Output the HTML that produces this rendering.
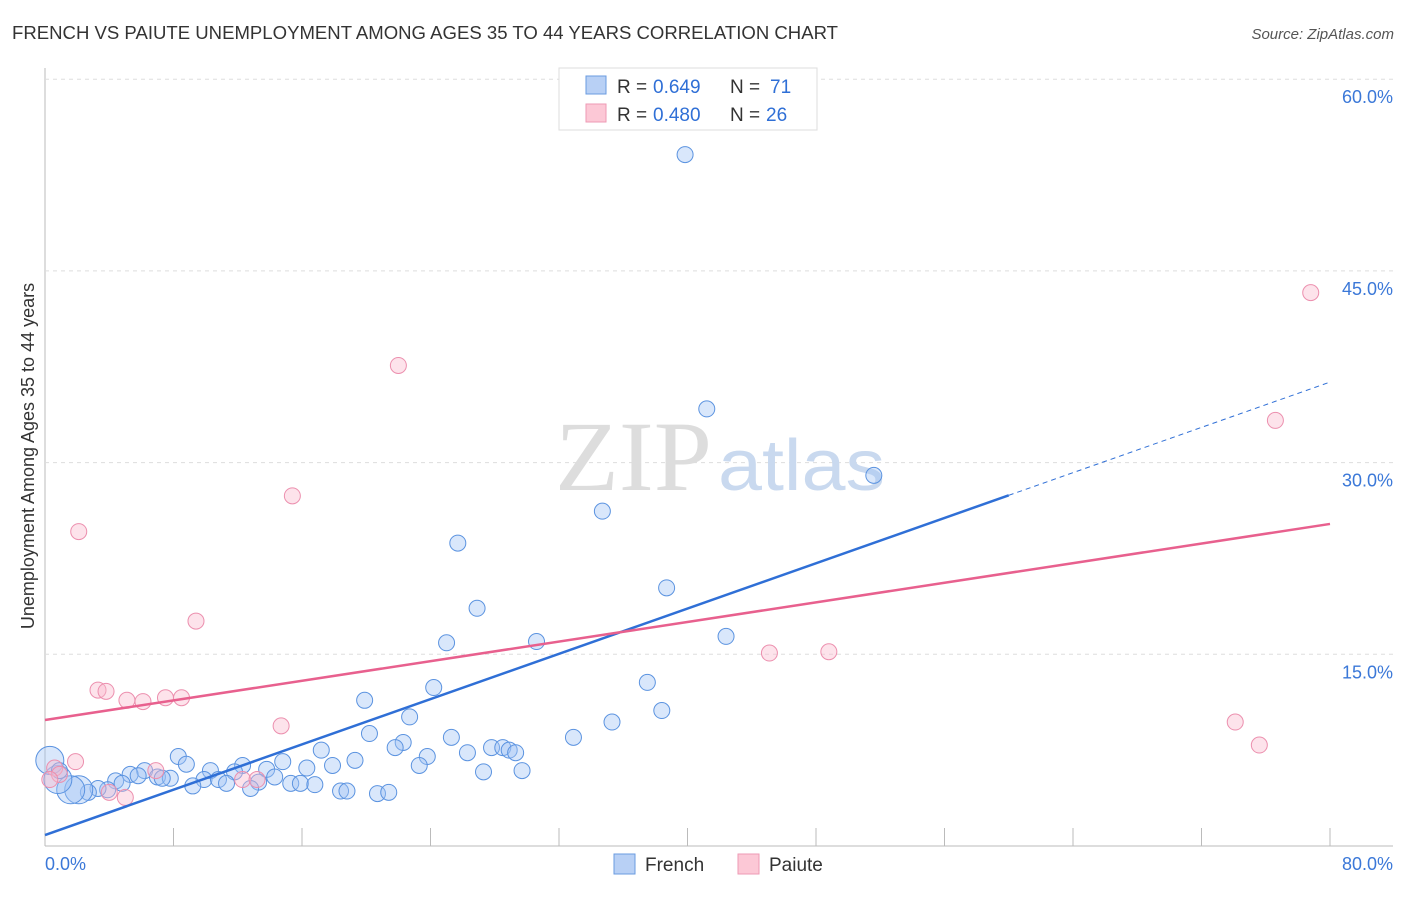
<!DOCTYPE html>
<html><head><meta charset="utf-8"><style>
body{margin:0;background:#fff;font-family:"Liberation Sans",sans-serif}
</style></head><body>
<svg width="1406" height="892" xmlns="http://www.w3.org/2000/svg" style="font-family:'Liberation Sans',sans-serif">
<text x="12" y="39" font-size="18" fill="#333" textLength="826" lengthAdjust="spacingAndGlyphs">FRENCH VS PAIUTE UNEMPLOYMENT AMONG AGES 35 TO 44 YEARS CORRELATION CHART</text>
<text x="1394" y="39" font-size="15" fill="#555" font-style="italic" text-anchor="end">Source: ZipAtlas.com</text>
<g id="grid"></g>
<text x="712" y="490" font-size="100" fill="#ddd" font-family="Liberation Serif,serif" text-anchor="end" textLength="157" lengthAdjust="spacingAndGlyphs">ZIP</text>
<text x="718" y="490" font-size="72" fill="#c9d9ef" textLength="167" lengthAdjust="spacingAndGlyphs">atlas</text>
<text transform="translate(34,456) rotate(-90)" font-size="18" fill="#333" text-anchor="middle">Unemployment Among Ages 35 to 44 years</text>
<g id="pts"></g>
<g id="lines"></g>
<g>
<rect x="559" y="68" width="258" height="62" fill="#fff" stroke="#ddd"/>
<rect x="586" y="76" width="20" height="18" fill="#b8d0f5" stroke="#6a9be0"/>
<rect x="586" y="104" width="20" height="18" fill="#fcc8d6" stroke="#ee9ab4"/>
<text x="617" y="93" font-size="19" fill="#333">R =</text><text x="653" y="93" font-size="19" fill="#2f6fd6">0.649</text>
<text x="730" y="93" font-size="19" fill="#333">N =</text><text x="770" y="93" font-size="19" fill="#2f6fd6">71</text>
<text x="617" y="121" font-size="19" fill="#333">R =</text><text x="653" y="121" font-size="19" fill="#2f6fd6">0.480</text>
<text x="730" y="121" font-size="19" fill="#333">N =</text><text x="766" y="121" font-size="19" fill="#2f6fd6">26</text>
</g>
<g>
<rect x="614" y="854" width="21" height="20" fill="#b8d0f5" stroke="#6a9be0"/>
<text x="645" y="871" font-size="19" fill="#333">French</text>
<rect x="738" y="854" width="21" height="20" fill="#fcc8d6" stroke="#ee9ab4"/>
<text x="769" y="871" font-size="19" fill="#333">Paiute</text>
</g>
</svg>
<script>
const yTicks=[15,30,45,60];
const xTickLabels=["0.0%","80.0%"];
const frenchX=[39.85,41.2,51.6,34.7,25.7,38.7,26.9,25.0,30.6,42.4,37.5,24.2,19.9,38.4,35.3,22.7,20.2,25.3,32.9,22.3,21.8,27.8,28.5,28.9,29.3,17.2,23.8,26.3,19.3,23.3,27.3,29.7,17.9,16.3,14.8,13.8,12.3,11.8,8.3,8.8,10.3,9.9,10.8,11.3,9.2,14.3,15.3,15.9,16.8,13.3,12.8,18.4,18.8,20.7,21.4,6.2,7.0,7.8,7.3,5.3,5.8,4.4,4.8,3.9,3.3,2.7,2.1,1.6,0.8,0.3,0.9];
const frenchY=[54.1,34.2,29.0,26.2,23.7,20.2,18.6,15.9,16.0,16.4,12.8,12.4,11.4,10.6,9.7,10.1,8.8,8.5,8.5,8.1,7.7,7.7,7.7,7.5,7.3,7.5,7.0,7.3,6.7,6.3,5.8,5.9,6.3,6.1,6.6,6.0,6.3,5.8,7.0,6.4,5.9,5.2,5.2,4.9,4.7,5.4,4.9,4.9,4.8,5.0,4.5,4.3,4.3,4.1,4.2,5.9,5.4,5.3,5.3,5.6,5.5,5.1,4.9,4.4,4.5,4.2,4.4,4.4,5.2,6.7,5.9];
const paiuteX=[78.8,76.6,22.0,15.4,2.1,9.4,45.1,48.8,74.1,75.6,14.7,3.3,3.8,5.1,6.1,7.5,8.5,1.9,6.9,12.3,13.2,4.0,5.0,0.6,0.9,0.3];
const paiuteY=[43.3,33.3,37.6,27.4,24.6,17.6,15.1,15.2,9.7,7.9,9.4,12.2,12.1,11.4,11.3,11.6,11.6,6.6,5.9,5.2,5.2,4.2,3.8,6.1,5.6,5.2];
const frenchLine=[0.86,36.3]; const paiuteLine=[9.86,25.2];
const X=v=>45+v*1285/80, Y=v=>846-v*191.7/15;
const NS="http://www.w3.org/2000/svg";
function mk(t,a,p){const e=document.createElementNS(NS,t);for(const k in a)e.setAttribute(k,a[k]);p.appendChild(e);return e;}
const g=document.getElementById('grid');
mk('line',{x1:45,y1:68,x2:45,y2:846,stroke:'#bbb'},g);
mk('line',{x1:45,y1:846,x2:1393,y2:846,stroke:'#bbb'},g);
yTicks.forEach(t=>{const l=mk('line',{x1:45,x2:1393,y1:Y(t),y2:Y(t),stroke:'#ddd','stroke-dasharray':'4,4'},g);


const tx=mk('text',{x:1393,y:Y(t)+24,'font-size':18,fill:'#3b78d8','text-anchor':'end'},g);tx.textContent=t.toFixed(1)+'%';

});
for(let i=1;i<=10;i++){const l=mk('line',{x1:X(i*8),x2:X(i*8),y1:828,y2:846,stroke:'#bbb'},g);

}
let t0=mk('text',{x:45,y:870,'font-size':18,fill:'#3b78d8'},g);t0.textContent=xTickLabels[0];


let t1=mk('text',{x:1393,y:870,'font-size':18,fill:'#3b78d8','text-anchor':'end'},g);t1.textContent=xTickLabels[1];


const p=document.getElementById('pts');
frenchX.forEach((x,i)=>{const r=i>=66&&i<=69?14:8;const c=mk('circle',{cx:X(x),cy:Y(frenchY[i]),r:r,fill:'rgba(160,195,245,0.4)',stroke:'#5b93e0','stroke-width':1},p);

});
paiuteX.forEach((x,i)=>{const c=mk('circle',{cx:X(x),cy:Y(paiuteY[i]),r:8,fill:'rgba(250,185,205,0.4)',stroke:'#ec8fae','stroke-width':1},p);

});
const L=document.getElementById('lines');
const fy=x=>frenchLine[0]+(frenchLine[1]-frenchLine[0])*x/80;
let a=mk('line',{x1:X(0),y1:Y(fy(0)),x2:X(60),y2:Y(fy(60)),stroke:'#2f6fd6','stroke-width':2.5},L);


let b=mk('line',{x1:X(60),y1:Y(fy(60)),x2:X(80),y2:Y(fy(80)),stroke:'#2f6fd6','stroke-width':1,'stroke-dasharray':'5,4'},L);


let c=mk('line',{x1:X(0),y1:Y(paiuteLine[0]),x2:X(80),y2:Y(paiuteLine[1]),stroke:'#e8608e','stroke-width':2.5},L);


</script>
</body></html>
